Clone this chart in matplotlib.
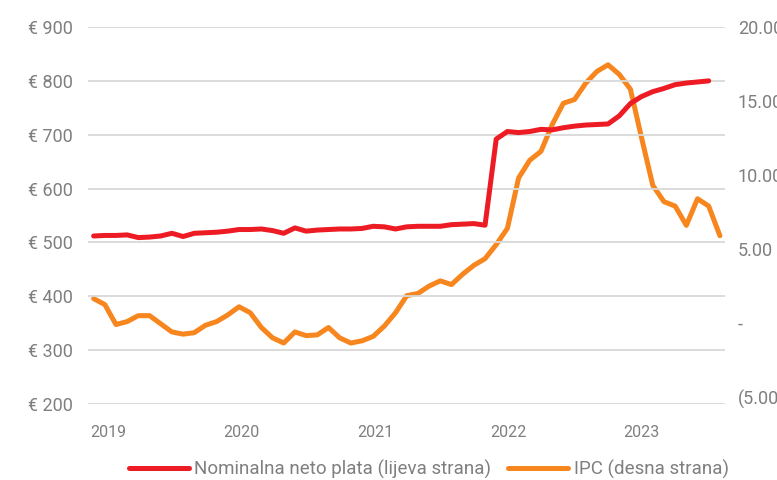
import matplotlib
matplotlib.use("Agg")
import matplotlib.pyplot as plt

# neto plata (EUR), mjesecno od pocetka 2019 (lijeva osa)
plata = [512, 513, 513, 514, 509, 510, 512, 517, 511, 517,
         518, 519, 521, 524, 524, 525, 522, 517, 527, 521,
         523, 524, 525, 525, 526, 530, 529, 525, 529, 530,
         530, 530, 533, 534, 535, 532, 692, 706, 704, 706,
         710, 709, 713, 716, 718, 719, 720, 735, 758, 771,
         780, 786, 793, 796, 798, 800]

# IPC (%), mjesecno (desna osa)
ipc = [1.65, 1.25, -0.1, 0.1, 0.5, 0.5, -0.05, -0.6, -0.75, -0.65,
       -0.15, 0.1, 0.55, 1.1, 0.7, -0.3, -1.0, -1.35, -0.6, -0.85,
       -0.8, -0.3, -1.0, -1.35, -1.2, -0.9, -0.2, 0.7, 1.85, 2.0,
       2.5, 2.85, 2.6, 3.3, 3.9, 4.35, 5.3, 6.4, 9.8, 11.0,
       11.6, 13.4, 14.85, 15.1, 16.2, 17.0, 17.45, 16.8, 15.8, 12.5,
       9.3, 8.2, 7.9, 6.6, 8.4, 7.9, 5.9]

god_pos = [1.3, 13.2, 25.2, 37.1, 49.0]
god_lab = ["2019", "2020", "2021", "2022", "2023"]

lijevo_ticks = [200, 300, 400, 500, 600, 700, 800, 900]
desno_ticks = [-5, 0, 5, 10, 15, 20]
desno_lab = ["(5.00)", "-", "5.00", "10.00", "15.00", "20.00"]

C_PLATA = "#ED1C24"
C_IPC = "#F7861F"
C_TXT = "#7F7F7F"
C_GRID = "#D9D9D9"

plt.rcParams["font.family"] = ["Roboto", "DejaVu Sans"]

fig = plt.figure(figsize=(7.77, 4.8), dpi=100)
ax = fig.add_axes([0.1133, 0.1583, 0.8204, 0.7854])
ax2 = ax.twinx()

# crvena linija iznad narandzaste
ax.set_zorder(ax2.get_zorder() + 1)
ax.patch.set_visible(False)

l1, = ax.plot(range(len(plata)), plata, color=C_PLATA, lw=3.6,
              solid_capstyle="round", solid_joinstyle="round",
              label="Nominalna neto plata (lijeva strana)", zorder=3)
l2, = ax2.plot(range(len(ipc)), ipc, color=C_IPC, lw=3.6,
               solid_capstyle="round", solid_joinstyle="round",
               label="IPC (desna strana)")

ax.set_xlim(-0.5, 56.5)
ax.set_ylim(200, 900)
ax2.set_ylim(-5.47, 20)

ax.set_yticks(lijevo_ticks)
ax.set_yticklabels([f"€ {v}" for v in lijevo_ticks])
ax2.set_yticks(desno_ticks)
ax2.set_yticklabels(desno_lab)
ax.set_xticks(god_pos)
ax.set_xticklabels(god_lab)

ax.grid(axis="y", color=C_GRID, lw=1.3)
ax.set_axisbelow(True)
for a in (ax, ax2):
    for s in a.spines.values():
        s.set_visible(False)

ax.tick_params(axis="y", length=0, pad=11, labelsize=13, colors=C_TXT)
ax.tick_params(axis="x", length=0, pad=15, labelsize=11.5, colors=C_TXT)
ax2.tick_params(axis="y", length=0, pad=9, labelsize=13, colors=C_TXT)

fig.legend([l1, l2], [l1.get_label(), l2.get_label()], loc="center",
           bbox_to_anchor=(0.552, 0.022), ncol=2, frameon=False,
           fontsize=13.5, labelcolor=C_TXT, handlelength=3.2,
           handletextpad=0.3, columnspacing=0.9)

fig.savefig("out.png", dpi=100)
